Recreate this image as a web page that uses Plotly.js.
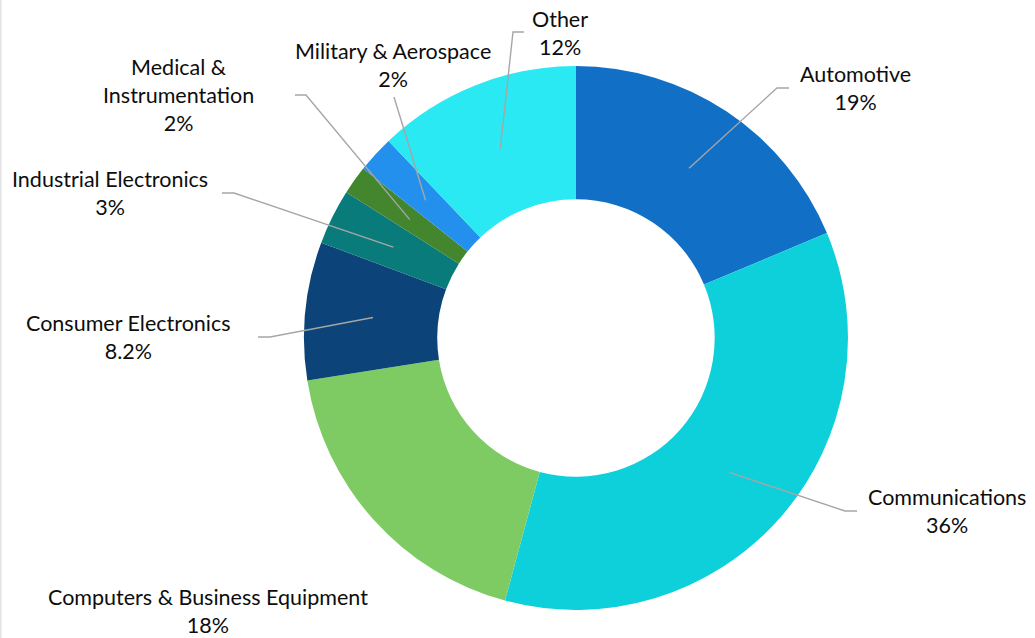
<!DOCTYPE html>
<html>
<head>
<meta charset="utf-8">
<script src="https://cdn.plot.ly/plotly-3.0.1.min.js"></script>
<style>
  html, body { margin: 0; padding: 0; background: #ffffff; }
  #chart { width: 1035px; height: 638px; }
</style>
</head>
<body>
<div id="chart"></div>
<script>
// ---- data ----
const categories = [
  "Automotive",
  "Communications",
  "Computers & Business Equipment",
  "Consumer Electronics",
  "Industrial Electronics",
  "Medical & Instrumentation",
  "Military & Aerospace",
  "Other"
];
// slice sizes
const shares = [18.7, 35.5, 18.3, 8.2, 3.3, 1.7, 2.2, 12.1];
// percentage texts as printed on the labels
const pctLabels = ["19%", "36%", "18%", "8.2%", "3%", "2%", "2%", "12%"];
const labelLines = [
  "Automotive",
  "Communications",
  "Computers & Business Equipment",
  "Consumer Electronics",
  "Industrial Electronics",
  "Medical &<br>Instrumentation",
  "Military & Aerospace",
  "Other"
];
const sliceColors = ["#1170C6", "#0ED0DA", "#7ECB64", "#0C4378", "#0A7B7B", "#43862D", "#2490EE", "#2AE9F2"];

// ---- layout helpers (pixel positions of labels) ----
const W = 1035, H = 638;
const px = x => x / W;
const py = y => 1 - y / H;

const domX = [0.2937, 0.8193];
const domY = [0.0439, 0.8966];
const cx = (domX[0] + domX[1]) / 2 * W;
const cy = (1 - (domY[0] + domY[1]) / 2) * H;
const R = Math.min((domX[1] - domX[0]) * W, (domY[1] - domY[0]) * H) / 2;

// label centre positions [x, y] in pixels and leader knee/end points
const labelPos = [
  [855, 88], [947, 511], [208, 611], [128, 337],
  [110, 193], [178, 95], [393, 65], [560, 33]
];
const leaderKnee = [
  [[777, 88], [789, 88]],
  [[845, 511], [857, 511]],
  null,
  [[270, 337], [258, 337]],
  [[234, 193], [222, 193]],
  [[306, 95], [295, 95]],
  [[394, 97], null],
  [[513, 32], [524, 32]]
];

const total = shares.reduce((a, b) => a + b, 0);
let cum = 0;
const shapes = [];
shares.forEach((v, i) => {
  const mid = (cum + v / 2) / total;
  cum += v;
  const k = leaderKnee[i];
  if (!k) return;
  const th = mid * 2 * Math.PI;
  const r = 0.75 * R;
  const sx = cx + r * Math.sin(th);
  const sy = cy - r * Math.cos(th);
  let path = `M ${px(sx)} ${py(sy)} L ${px(k[0][0])} ${py(k[0][1])}`;
  if (k[1]) path += ` L ${px(k[1][0])} ${py(k[1][1])}`;
  shapes.push({
    type: "path", xref: "paper", yref: "paper", path: path,
    line: { color: "#A6A6A6", width: 1.4 }
  });
});
shapes.push({
  type: "line", xref: "paper", yref: "paper", x0: 0.0008, x1: 0.0008, y0: 0, y1: 1,
  line: { color: "#E3E3E3", width: 1.5 }
});

const annotations = shares.map((v, i) => ({
  xref: "paper", yref: "paper",
  x: px(labelPos[i][0]), y: py(labelPos[i][1]),
  xanchor: "center", yanchor: "middle",
  text: labelLines[i] + "<br>" + pctLabels[i],
  showarrow: false, align: "center",
  font: { family: "Lato, 'Open Sans', sans-serif", size: 21.5, color: "#0d0d0d" }
}));

const trace = {
  type: "pie",
  labels: categories,
  values: shares,
  hole: 0.51,
  sort: false,
  direction: "clockwise",
  rotation: 0,
  marker: { colors: sliceColors, line: { width: 0 } },
  textinfo: "none",
  hoverinfo: "label+percent",
  domain: { x: domX, y: domY },
  showlegend: false
};

const layout = {
  width: W, height: H,
  margin: { l: 0, r: 0, t: 0, b: 0 },
  paper_bgcolor: "#ffffff",
  plot_bgcolor: "#ffffff",
  showlegend: false,
  shapes: shapes,
  annotations: annotations
};

Plotly.newPlot("chart", [trace], layout, { displayModeBar: false, staticPlot: true });
</script>
</body>
</html>
